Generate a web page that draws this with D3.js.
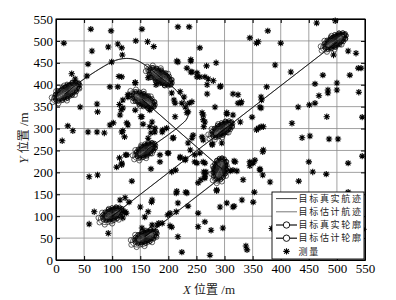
<!DOCTYPE html>
<html><head><meta charset="utf-8">
<script src="https://cdn.jsdelivr.net/npm/d3@7"></script>
<style>body{margin:0;background:#fff}</style>
</head><body>
<svg id="c" width="396" height="300"></svg>
<script>
// ---------- data ----------
const ticks = [0,50,100,150,200,250,300,350,400,450,500,550];
const legendLabels = ["目标真实航迹","目标估计航迹","目标真实轮廓","目标估计轮廓","测量"];
// true trajectories
const trackTrue1 = [[100,100],[500,497]];
const trackTrue2 = [[157,52],[292,186]];
const trackTrue3 = [[152,368],[295,208]];
const trackTrue4 = [[15,378],[40,404],[70,430],[100,452],[112,458],[125,460],[140,458],[155,448],[185,418],[210,392],[224,372],[233,352],[236,338],[233,322],[222,308],[200,286],[180,268],[162,252]];
// estimated trajectories
const trackEst1 = [[101,101],[499,496]];
const trackEst2 = [[158,53],[291,186]];
const trackEst3 = [[153,367],[294,209]];
const trackEst4 = [[16,379],[41,405],[71,431],[100,453],[113,458],[126,460],[141,457],[156,447],[186,417],[211,391],[225,371],[234,351],[236,337],[232,321],[221,307],[199,285],[179,267],[161,251]];
// true contours: cx, cy, semi-major, semi-minor, angle (deg)
const contTrue = [[20,385,30,14,43],[186,418,28,14,-45],[156,365,26,14,-40],[497,500,26,13,43],[296,299,25,13,45],[160,251,23,13,45],[292,208,27,13,82],[101,105,22,14,38],[160,53,24,14,34]];
// estimated contours
const contEst = [[17,381,31,15,42],[183,421,29,15,-44],[153,368,27,15,-41],[493,496,27,14,42],[292,295,26,14,44],[156,247,24,14,46],[291,203,28,14,80],[97,100,24,16,36],[156,49,26,16,33]];
// measurements
const meas = [[14,495],[62,527],[98,523],[64,477],[153,527],[93,486],[110,493],[117,484],[118,468],[142,500],[163,498],[174,487],[57,447],[99,452],[28,425],[34,413],[55,420],[112,419],[141,405],[96,395],[110,395],[43,349],[73,356],[74,338],[119,365],[119,347],[128,372],[96,308],[102,313],[128,308],[151,327],[155,310],[21,306],[30,295],[57,292],[73,292],[86,290],[119,295],[122,281],[11,272],[167,304],[176,301],[169,290],[197,301],[209,279],[189,292],[217,532],[237,532],[215,454],[240,454],[233,438],[240,429],[251,418],[178,400],[221,384],[228,372],[224,358],[210,365],[235,338],[237,358],[114,331],[113,355],[116,343],
[464,541],[497,546],[377,523],[345,507],[360,498],[357,495],[400,495],[256,484],[520,477],[534,472],[494,468],[390,445],[285,450],[268,443],[538,438],[543,438],[418,429],[475,422],[523,422],[256,418],[271,413],[280,409],[269,400],[293,397],[461,402],[500,404],[484,388],[500,388],[484,381],[468,375],[539,383],[375,395],[315,379],[269,379],[365,372],[366,365],[330,361],[324,358],[365,347],[283,349],[431,349],[451,354],[461,358],[304,333],[315,331],[349,326],[482,327],[545,326],[262,331],[265,315],[263,304],[328,315],[420,312],[360,301],[369,304],[295,267],[278,265],[438,279],[452,283],[486,276],[502,276],[369,251],[260,281],
[59,190],[74,194],[113,233],[108,212],[117,217],[124,240],[135,180],[169,208],[185,240],[185,224],[200,244],[206,201],[213,205],[221,235],[230,231],[247,240],[114,137],[130,132],[68,110],[59,82],[123,110],[119,96],[150,121],[170,132],[164,110],[158,98],[214,153],[217,130],[214,110],[203,107],[235,123],[231,155],[189,84],[180,80],[171,80],[203,78],[217,53],[224,18],[93,61],[253,76],
[545,237],[520,221],[450,224],[457,201],[481,196],[432,180],[381,178],[368,194],[363,208],[345,215],[351,221],[333,183],[317,226],[315,205],[322,203],[310,203],[265,221],[263,201],[258,183],[368,247],[353,155],[351,132],[331,137],[317,123],[304,130],[292,121],[286,158],[265,87],[276,68],[297,73],[338,32],[340,23],[274,11],[520,155],[547,70],[384,72],
[329,358],[363,349],[365,304],[357,297],[244,285],[256,244],[247,224],[262,224],[319,224],[345,224],[354,228],[267,201],[265,190],[253,176],[363,205],
[125,107],[153,73],[183,84],[199,103],[206,75],[215,157],[233,153],[253,107],
[217,452],[240,457],[242,429],[251,427],[265,418],[292,395],[141,404],[117,418],[164,416],[206,381],[212,358],[242,361],[230,349],[233,336],[212,327],[260,336],[262,320],[304,336],[324,377],[128,377],[141,342],[167,342],[126,313],[153,327],[171,315],[117,292],[176,292],[190,297],[164,278],[208,278],[242,278],[262,274],
[126,240],[117,221],[235,267],[239,251],[251,221],[278,263],[199,244],[221,233],[230,228],[265,194],[265,187],[286,160],[123,142],[171,137],[315,121]];

// ---------- drawing ----------
const svg = d3.select("#c");
const x = d3.scaleLinear().domain([0,550]).range([56,365]);
const y = d3.scaleLinear().domain([0,550]).range([260,19]);
const serif = "'Liberation Serif','Times New Roman',serif";
const cjk = "'Noto Sans CJK SC',sans-serif";

// grid
const g = svg.append("g");
g.selectAll(".gx").data(ticks).join("line")
  .attr("x1",d=>x(d)).attr("x2",d=>x(d)).attr("y1",y(0)).attr("y2",y(550))
  .attr("stroke","#8a8a8a").attr("stroke-width",0.8);
g.selectAll(".gy").data(ticks).join("line")
  .attr("y1",d=>y(d)).attr("y2",d=>y(d)).attr("x1",x(0)).attr("x2",x(550))
  .attr("stroke","#8a8a8a").attr("stroke-width",0.8);

const line = d3.line().x(d=>x(d[0])).y(d=>y(d[1]));
const line4 = d3.line().curve(d3.curveCatmullRom).x(d=>x(d[0])).y(d=>y(d[1]));
[trackEst1,trackEst2,trackEst3].forEach(t=>svg.append("path").attr("d",line(t)).attr("fill","none").attr("stroke","#555").attr("stroke-width",0.8));
svg.append("path").attr("d",line4(trackEst4)).attr("fill","none").attr("stroke","#555").attr("stroke-width",0.8);
[trackTrue1,trackTrue2,trackTrue3].forEach(t=>svg.append("path").attr("d",line(t)).attr("fill","none").attr("stroke","#111").attr("stroke-width",0.8));
svg.append("path").attr("d",line4(trackTrue4)).attr("fill","none").attr("stroke","#111").attr("stroke-width",0.8);

// contours
function ellPts(c, s, n){
  const [cx,cy,a,b,ang]=c, t=ang*Math.PI/180, pts=[];
  for(let i=0;i<=n;i++){const u=2*Math.PI*i/n;
    const ex=a*s*Math.cos(u), ey=b*s*Math.sin(u);
    pts.push([cx+ex*Math.cos(t)-ey*Math.sin(t), cy+ex*Math.sin(t)+ey*Math.cos(t)]);}
  return pts;
}
const scales = d3.range(1,0.02,-0.07);
const cg = svg.append("g");
contEst.forEach(c=>{
  const p = ellPts(c,1,40);
  cg.append("path").attr("d",line(p)).attr("fill","none").attr("stroke","#222").attr("stroke-width",0.7);
  cg.selectAll(null).data(ellPts(c,1,10).slice(0,10)).join("circle")
    .attr("cx",d=>x(d[0])).attr("cy",d=>y(d[1])).attr("r",2.6)
    .attr("fill","none").attr("stroke","#222").attr("stroke-width",0.7);
});
contTrue.forEach(c=>{
  scales.forEach(s=>{
    cg.append("path").attr("d",line(ellPts(c,s,48))).attr("fill","none").attr("stroke","#000").attr("stroke-width",0.9);
  });
  cg.selectAll(null).data(ellPts(c,0.95,16).slice(0,16)).join("circle")
    .attr("cx",d=>x(d[0])).attr("cy",d=>y(d[1])).attr("r",2)
    .attr("fill","none").attr("stroke","#000").attr("stroke-width",0.8);
});

// measurements
const star = "M-3.2,0H3.2M0,-3.2V3.2M-2.3,-2.3L2.3,2.3M-2.3,2.3L2.3,-2.3";
svg.append("g").selectAll("path").data(meas).join("path")
  .attr("d",star).attr("transform",d=>`translate(${x(d[0])},${y(d[1])})`)
  .attr("stroke","#000").attr("stroke-width",1.1).attr("fill","none");

// axes
svg.append("g").attr("transform",`translate(0,${y(0)})`)
  .call(d3.axisBottom(x).tickValues(ticks).tickSizeInner(-4).tickSizeOuter(0).tickPadding(4));
svg.append("g").attr("transform",`translate(${x(0)},0)`)
  .call(d3.axisLeft(y).tickValues(ticks).tickSizeInner(-4).tickSizeOuter(0).tickPadding(3));
svg.append("g").attr("transform",`translate(0,${y(550)})`).call(d3.axisTop(x).tickValues(ticks).tickSizeInner(-4).tickSizeOuter(0).tickFormat(""));
svg.append("g").attr("transform",`translate(${x(550)},0)`).call(d3.axisRight(y).tickValues(ticks).tickSizeInner(-4).tickSizeOuter(0).tickFormat(""));
svg.selectAll(".domain").attr("stroke","#000");
svg.selectAll(".tick line").attr("stroke","#000");
svg.selectAll(".tick text").attr("font-family",serif).attr("font-size","13px").attr("fill","#000");
svg.append("rect").attr("x",x(0)).attr("y",y(550)).attr("width",x(550)-x(0)).attr("height",y(0)-y(550))
  .attr("fill","none").attr("stroke","#000").attr("stroke-width",1);

// axis labels
const xl = svg.append("text").attr("x",209).attr("y",294).attr("text-anchor","middle").attr("font-size","13px").attr("fill","#222");
xl.append("tspan").attr("font-family",serif).attr("font-style","italic").text("X ");
xl.append("tspan").attr("font-family",cjk).attr("font-size","12px").text("位置");
xl.append("tspan").attr("font-family",serif).text(" /m");
const yl = svg.append("text").attr("transform","translate(28,138) rotate(-90)").attr("text-anchor","middle").attr("font-size","13px").attr("fill","#222");
yl.append("tspan").attr("font-family",serif).attr("font-style","italic").text("Y ");
yl.append("tspan").attr("font-family",cjk).attr("font-size","12px").text("位置");
yl.append("tspan").attr("font-family",serif).text(" /m");

// legend
const lg = svg.append("g");
lg.append("rect").attr("x",272).attr("y",192).attr("width",92).attr("height",67).attr("fill","#fff").attr("stroke","#000").attr("stroke-width",0.9);
const rowsY = [198.6,211.8,225,238.2,251.4];
legendLabels.forEach((t,i)=>{
  const yy = rowsY[i];
  if(i<4) lg.append("line").attr("x1",276).attr("x2",297).attr("y1",yy).attr("y2",yy)
      .attr("stroke",i===1?"#555":"#111").attr("stroke-width",i>=2?1.2:0.8);
  if(i===2||i===3) lg.append("circle").attr("cx",286.5).attr("cy",yy).attr("r",3.2).attr("fill","#fff").attr("stroke","#000").attr("stroke-width",0.9);
  if(i===4) lg.append("path").attr("d",star).attr("transform",`translate(286.5,${yy})`).attr("stroke","#000").attr("stroke-width",1.1);
  lg.append("text").attr("x",298.5).attr("y",yy).attr("dy","0.35em").attr("font-family",cjk).attr("font-size","9px").attr("letter-spacing","1.7px").attr("fill","#222").text(t);
});
</script>
</body></html>
